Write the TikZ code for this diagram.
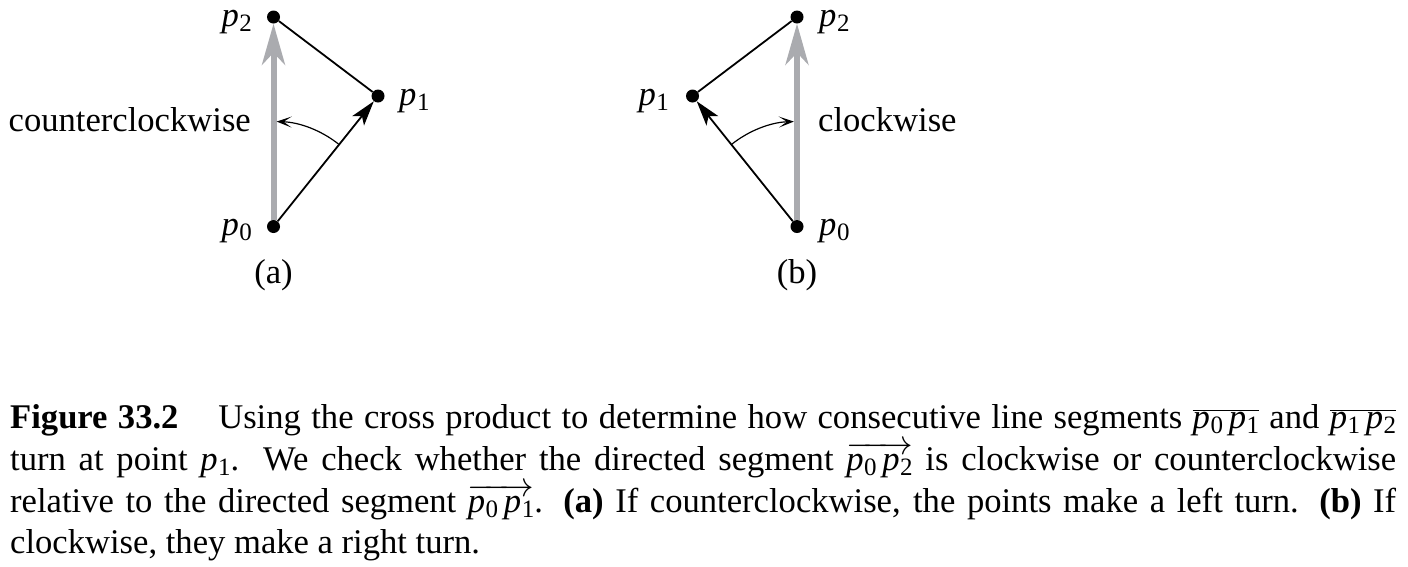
\RequirePackage{fix-cm}
\documentclass[tikz,border=0pt]{standalone}
\usepackage{fontspec}
\setmainfont{Liberation Serif}
\usetikzlibrary{arrows.meta,calc}
\definecolor{arrowgray}{RGB}{170,171,175}
\newcommand{\pv}[1]{\textit{p}\kern0.5pt\raisebox{-5.5pt}{\fontsize{25}{25}\selectfont #1}}
\begin{document}
\begin{tikzpicture}[x=1pt,y=-1pt,
  dot/.style={circle,fill=black,inner sep=0pt,minimum size=13pt},
  lbl/.style={inner sep=0pt,font=\fontsize{34.6}{41.7}\selectfont},
  capline/.style={inner sep=0pt,font=\fontsize{34.6}{41.7}\selectfont,anchor=base west},
  grayarrow/.style={draw=arrowgray,line width=6pt,-{Stealth[length=41pt,width=23pt,inset=12pt]}},
  blackarrow/.style={draw=black,line width=1.8pt,-{Stealth[length=25pt,width=15pt,inset=6pt]}},
  blackline/.style={draw=black,line width=1.8pt},
  arcarrow/.style={draw=black,line width=1.2pt,-{Stealth[length=15pt,width=11pt,inset=8pt]}}
]
\useasboundingbox (0,0) rectangle (1408,566);

% ---------- (a) ----------
\node[dot] (a0) at (273.5,226.5) {};
\node[dot] (a1) at (378,96) {};
\node[dot] (a2) at (273.5,17) {};
\draw[grayarrow] (a0) -- (a2);
\draw[blackline] (a2) -- (a1);
\draw[blackarrow] (a0) -- (a1);
\coordinate (as) at ($(a0)+(-51.3:105)$);
\draw[arcarrow] (as) arc[start angle=-51.3, end angle=-88.3, radius=105];
\node[lbl,anchor=base east] (la2) at (252,26) {\pv{2}};
\node[lbl,anchor=base west] (la1) at (399,105) {\pv{1}};
\node[lbl,anchor=base east] (la0) at (252,235) {\pv{0}};
\node[lbl,anchor=base east] (lccw) at (251,131.5) {counterclockwise};
\node[lbl,anchor=base] (capa) at (273.5,283) {(a)};

% ---------- (b) ----------
\node[dot] (b0) at (797,226.5) {};
\node[dot] (b1) at (692.5,96) {};
\node[dot] (b2) at (797,17) {};
\draw[grayarrow] (b0) -- (b2);
\draw[blackline] (b2) -- (b1);
\draw[blackarrow] (b0) -- (b1);
\coordinate (bs) at ($(b0)+(-128.7:105)$);
\draw[arcarrow] (bs) arc[start angle=-128.7, end angle=-91.7, radius=105];
\node[lbl,anchor=base west] (lb2) at (819,26) {\pv{2}};
\node[lbl,anchor=base east] (lb1) at (669,105) {\pv{1}};
\node[lbl,anchor=base west] (lb0) at (819,235) {\pv{0}};
\node[lbl,anchor=base west] (lcw) at (818,131.5) {clockwise};
\node[lbl,anchor=base] (capb) at (797,283) {(b)};

% ---------- caption ----------
\node[capline] (cap1) at (10,428) {\makebox[1386pt][s]{\textbf{Figure 33.2}\hspace{1.15em}Using the cross product to determine how consecutive line segments $\overline{\hbox{\pv{0}\,\pv{1}}}$ and $\overline{\hbox{\pv{1}\,\pv{2}}}$}};
\node[capline] (cap2) at (10,470) {\makebox[1386pt][s]{turn at point \pv{1}.  We check whether the directed segment $\overrightarrow{\hbox{\pv{0}\,\pv{2}}}$ is clockwise or counterclockwise}};
\node[capline] (cap3) at (10,512) {\makebox[1386pt][s]{relative to the directed segment $\overrightarrow{\hbox{\pv{0}\,\pv{1}}}$. \textbf{(a)} If counterclockwise, the points make a left turn. \textbf{(b)} If}};
\node[capline] (cap4) at (10,553) {clockwise, they make a right turn.};
\end{tikzpicture}
\end{document}
